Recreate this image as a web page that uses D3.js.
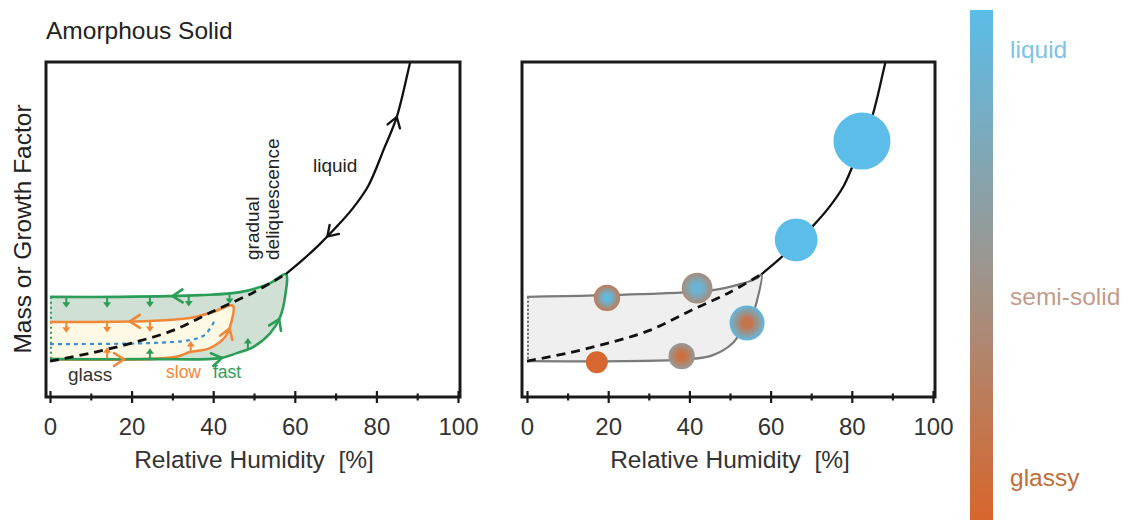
<!DOCTYPE html>
<html><head><meta charset="utf-8">
<script src="https://cdn.jsdelivr.net/npm/d3@7"></script>
<style>
body{margin:0;background:#fff}
svg{display:block}
text{font-family:"Liberation Sans",Arial,Helvetica,sans-serif}
</style>
</head><body>
<svg id="c" width="1138" height="520"></svg>
<script>
// ---------- data ----------
const rhTicksMajor = [0, 20, 40, 60, 80, 100];
const rhTicksMinor = [10, 30, 50, 70, 90];

const liquidRH = [57.8, 62, 66, 70, 74, 78, 82, 85, 88.3, 90];
const liquidGF = [36.7, 41, 45.5, 50.5, 56, 63, 74.5, 83.6, 100, 108];

const dashRH = [0, 10, 20, 30, 40, 50, 57.8];
const dashGF = [10.7, 13.1, 16.1, 19.8, 25.6, 31.3, 36.7];

const greenBotRH = [0, 24.5, 41.7, 45.8, 49.8, 54, 56.4, 57.6, 57.8];
const greenBotGF = [11.3, 11.3, 11.6, 13.1, 14.9, 19.1, 23.9, 29.9, 36.7];
const greenTopRH = [57.8, 54, 46.6, 36.8, 17.2, 0];
const greenTopGF = [36.7, 34, 31.3, 30.4, 29.9, 29.9];

const orangeBotRH = [0, 30.6, 34.3, 39.2, 42.9, 44.4, 44.8];
const orangeBotGF = [11.3, 11.9, 13.4, 14.6, 17.9, 22.1, 27.3];
const orangeTopRH = [44.8, 40, 34.3, 24.5, 0];
const orangeTopGF = [27.3, 25.4, 23.6, 22.7, 22.4];

const blueRH = [0, 24.5, 34.3, 38, 40.3];
const blueGF = [15.8, 16.1, 17, 18.6, 22.7];

const greenDownRH = [4, 14, 24.5, 34, 44];
const orangeDownRH = [4, 14, 24.5];
const greenUpRH = [24.5, 48.5];
const orangeUpRH = [14, 34.5];

const grayTopRH = [0, 27.8, 45.8, 52.5, 56.7, 57.8];
const grayTopGF = [29.9, 30.7, 31.9, 33.7, 35.5, 36.7];
const grayBotRH = [0, 40.1, 45.8, 50.7, 53.9, 55.4, 56.7, 57.8];
const grayBotGF = [10.7, 11.3, 12.5, 16.1, 22.1, 24.2, 29, 36.7];

const partRH   = [19.7, 41.9, 54.2, 17.2, 38.1, 66.3, 82.5];
const partGF   = [29.6, 32.5, 22.1, 10.4, 12.2, 46.9, 76.4];
const partSize = [1.2, 1.4, 1.6, 1.0, 1.2, 1.95, 2.6];
const partCore = [0.95, 0.9, 0.15, 0.02, 0.1, 1, 1];
const partEdge = [0.2, 0.4, 0.95, 0.02, 0.55, 1, 1];

const phaseStops  = [0, 0.5, 1];
const phaseColors = ["#d8652b", "#9c968f", "#5bbde8"];
const phaseLabels = ["glassy", "semi-solid", "liquid"];
const phaseLabelColors = ["#c06d3a", "#c49b8a", "#7ec3e3"];

// ---------- helpers ----------
const zip = (a, b) => a.map((v, i) => [v, b[i]]);
const svg = d3.select("#c");
const color = d3.scaleLinear().domain(phaseStops).range(phaseColors).interpolate(d3.interpolateRgb);
const rScale = d3.scaleLinear().domain([1, 2.6]).range([11, 28.5]);
const y = d3.scaleLinear().domain([0, 100]).range([397, 62]);
const FRAME_TOP = 62, FRAME_BOT = 397;

function interpY(rhArr, gfArr, rh) {
  const pts = zip(rhArr, gfArr).sort((a, b) => a[0] - b[0]);
  for (let i = 0; i < pts.length - 1; i++) {
    if (rh >= pts[i][0] && rh <= pts[i + 1][0]) {
      const t = (rh - pts[i][0]) / (pts[i + 1][0] - pts[i][0] || 1);
      return pts[i][1] + t * (pts[i + 1][1] - pts[i][1]);
    }
  }
  return pts[pts.length - 1][1];
}

function panel(id, fx0, fx1, x0, x1) {
  const x = d3.scaleLinear().domain([0, 100]).range([x0, x1]);
  const g = svg.append("g");
  const clipId = "clip" + id;
  svg.append("clipPath").attr("id", clipId).append("rect")
    .attr("x", fx0).attr("y", FRAME_TOP).attr("width", fx1 - fx0).attr("height", FRAME_BOT - FRAME_TOP);
  const plot = g.append("g").attr("clip-path", `url(#${clipId})`);
  const line = d3.line().x(d => x(d[0])).y(d => y(d[1])).curve(d3.curveCatmullRom.alpha(0.5));
  const axMaj = d3.axisBottom(x).tickValues(rhTicksMajor).tickSize(6).tickFormat(d3.format("d"));
  const gMaj = g.append("g").attr("transform", `translate(0,${FRAME_BOT})`).call(axMaj);
  gMaj.select(".domain").remove();
  gMaj.selectAll(".tick line").attr("y1", -6).attr("y2", 6).attr("stroke", "#1a1a1a").attr("stroke-width", 2.2);
  gMaj.selectAll(".tick text").attr("y", 38).attr("dy", 0).attr("font-size", 24)
    .attr("fill", "#333").style("font-family", '"Liberation Sans",Arial,sans-serif');
  const axMin = d3.axisBottom(x).tickValues(rhTicksMinor).tickSize(4).tickFormat("");
  const gMin = g.append("g").attr("transform", `translate(0,${FRAME_BOT})`).call(axMin);
  gMin.select(".domain").remove();
  gMin.selectAll(".tick line").attr("y1", -3.5).attr("y2", 3.5).attr("stroke", "#1a1a1a").attr("stroke-width", 2.2);
  g.append("text").attr("x", (x0 + x1) / 2).attr("y", 468).attr("text-anchor", "middle")
    .attr("font-size", 24.5).attr("fill", "#333").attr("xml:space", "preserve")
    .text("Relative Humidity  [%]");
  g.append("rect").attr("x", fx0).attr("y", FRAME_TOP).attr("width", fx1 - fx0).attr("height", FRAME_BOT - FRAME_TOP)
    .attr("fill", "none").attr("stroke", "#1a1a1a").attr("stroke-width", 3);
  return { x, g, plot, line };
}

function nearestLen(node, tx, ty) {
  const L = node.getTotalLength();
  let best = 0, bd = 1e9;
  for (let l = 0; l <= L; l += 0.5) {
    const p = node.getPointAtLength(l);
    const d = (p.x - tx) ** 2 + (p.y - ty) ** 2;
    if (d < bd) { bd = d; best = l; }
  }
  return [best, L];
}

function chevrons(plot, pathNode, specs, x, stroke, sw) {
  specs.forEach(s => {
    const dir = s[2] || 1;
    const [best, L] = nearestLen(pathNode, x(s[0]), y(s[1]));
    const p = pathNode.getPointAtLength(best);
    const q = pathNode.getPointAtLength(Math.min(L, best + 2 * dir));
    const p0 = pathNode.getPointAtLength(Math.max(0, best - 2 * dir));
    const ang = Math.atan2(q.y - p0.y, q.x - p0.x) * 180 / Math.PI;
    plot.append("path").attr("d", "M-10,-6.5L0,0L-10,6.5")
      .attr("transform", `translate(${p.x},${p.y}) rotate(${ang})`)
      .attr("fill", "none").attr("stroke", stroke).attr("stroke-width", sw)
      .attr("stroke-linejoin", "miter").attr("stroke-linecap", "round");
  });
}

function smallArrows(plot, rhs, rhArr, gfArr, x, dir, col) {
  rhs.forEach(r => {
    const px = x(r), py = y(interpY(rhArr, gfArr, r));
    const tip = py + dir * 11;
    plot.append("line").attr("x1", px).attr("x2", px).attr("y1", py).attr("y2", tip - dir * 3)
      .attr("stroke", col).attr("stroke-width", 2);
    plot.append("path").attr("d", `M${px - 4},${tip - dir * 5.5}L${px + 4},${tip - dir * 5.5}L${px},${tip}Z`)
      .attr("fill", col);
  });
}

// ---------- titles ----------
svg.append("text").attr("x", 46).attr("y", 39).attr("font-size", 24.5).attr("fill", "#222").text("Amorphous Solid");
svg.append("text").attr("transform", "translate(31,229) rotate(-90)").attr("text-anchor", "middle")
  .attr("font-size", 24.5).attr("fill", "#222").text("Mass or Growth Factor");

// ---------- left panel ----------
const GREEN = "#2c9d57", ORANGE = "#f0883a", BLUE = "#3a8fce";
{
  const { x, plot, line } = panel("L", 46, 460, 50, 458);
  const greenLoop = zip(greenBotRH, greenBotGF).concat(zip(greenTopRH, greenTopGF).slice(1));
  const orangeLoop = zip(orangeBotRH, orangeBotGF).concat(zip(orangeTopRH, orangeTopGF).slice(1));
  plot.append("path").attr("d", line(greenLoop) + "Z").attr("fill", "#d0e0d4").attr("stroke", "none");
  plot.append("path").attr("d", line(orangeLoop) + "Z").attr("fill", "#fdf9e5").attr("stroke", "none");
  plot.append("line").attr("x1", x(0) + 1).attr("x2", x(0) + 1).attr("y1", y(29.9)).attr("y2", y(11.3))
    .attr("stroke", GREEN).attr("stroke-width", 2).attr("stroke-dasharray", "2,3");
  plot.append("path").attr("d", line(zip(blueRH, blueGF))).attr("fill", "none")
    .attr("stroke", BLUE).attr("stroke-width", 2.2).attr("stroke-dasharray", "4,4");
  const oPath = plot.append("path").attr("d", line(orangeLoop)).attr("fill", "none")
    .attr("stroke", ORANGE).attr("stroke-width", 2.6);
  const gPath = plot.append("path").attr("d", line(greenLoop)).attr("fill", "none")
    .attr("stroke", GREEN).attr("stroke-width", 2.6);
  plot.append("path").attr("d", line(zip(dashRH, dashGF))).attr("fill", "none")
    .attr("stroke", "#111").attr("stroke-width", 2.8).attr("stroke-dasharray", "9,6");
  const lPath = plot.append("path").attr("d", line(zip(liquidRH, liquidGF))).attr("fill", "none")
    .attr("stroke", "#111").attr("stroke-width", 2.3);
  smallArrows(plot, greenDownRH, greenTopRH, greenTopGF, x, 1, GREEN);
  smallArrows(plot, orangeDownRH, orangeTopRH, orangeTopGF, x, 1, ORANGE);
  smallArrows(plot, greenUpRH, greenBotRH, greenBotGF, x, -1, GREEN);
  smallArrows(plot, orangeUpRH, orangeBotRH, orangeBotGF, x, -1, ORANGE);
  chevrons(plot, gPath.node(), [[42.2, 11.3], [55.6, 23.6], [30, 30.4]], x, GREEN, 2.6);
  chevrons(plot, oPath.node(), [[18.1, 11.6], [43.6, 20.6], [19.6, 22.4]], x, ORANGE, 2.6);
  chevrons(plot, lPath.node(), [[85, 83.6, 1], [68, 47.8, -1]], x, "#111", 2.3);
  const tg = svg.append("g");
  tg.append("text").attr("x", 313).attr("y", 172).attr("font-size", 19).attr("fill", "#222").text("liquid");
  tg.append("text").attr("transform", "translate(259,260) rotate(-90)").attr("font-size", 19).attr("fill", "#222").text("gradual");
  tg.append("text").attr("transform", "translate(279,260) rotate(-90)").attr("font-size", 19).attr("fill", "#222").text("deliquescence");
  tg.append("text").attr("x", 68).attr("y", 381).attr("font-size", 19).attr("fill", "#333").text("glass");
  tg.append("text").attr("x", 166).attr("y", 378).attr("font-size", 17.5).attr("fill", ORANGE).text("slow");
  tg.append("text").attr("x", 213).attr("y", 378).attr("font-size", 17.5).attr("fill", GREEN).text("fast");
}

// ---------- right panel ----------
{
  const { x, plot, line } = panel("R", 522, 935, 527, 933);
  const grayLoop = zip(grayBotRH, grayBotGF).concat(zip(grayTopRH, grayTopGF).reverse().slice(1));
  plot.append("path").attr("d", line(grayLoop) + "Z").attr("fill", "#efefef").attr("stroke", "none");
  plot.append("line").attr("x1", x(0) + 1).attr("x2", x(0) + 1).attr("y1", y(29.9)).attr("y2", y(10.7))
    .attr("stroke", "#444").attr("stroke-width", 1.5).attr("stroke-dasharray", "2,2");
  plot.append("path").attr("d", line(grayLoop)).attr("fill", "none").attr("stroke", "#7a7a7a").attr("stroke-width", 2.2);
  plot.append("path").attr("d", line(zip(dashRH, dashGF))).attr("fill", "none")
    .attr("stroke", "#111").attr("stroke-width", 2.8).attr("stroke-dasharray", "9,6");
  plot.append("path").attr("d", line(zip(liquidRH, liquidGF))).attr("fill", "none")
    .attr("stroke", "#111").attr("stroke-width", 2.3);
  const defs = svg.append("defs");
  partRH.forEach((r, i) => {
    const gid = "pg" + i;
    const rg = defs.append("radialGradient").attr("id", gid);
    rg.append("stop").attr("offset", "0%").attr("stop-color", color(partCore[i]));
    rg.append("stop").attr("offset", "25%").attr("stop-color", color(partCore[i]));
    rg.append("stop").attr("offset", "100%").attr("stop-color", color(partEdge[i]));
    plot.append("circle").attr("cx", x(r)).attr("cy", y(partGF[i])).attr("r", rScale(partSize[i]))
      .attr("fill", `url(#${gid})`);
  });
}

// ---------- colour bar ----------
{
  const barY = d3.scaleLinear().domain([0, 1]).range([520, 10]);
  const lg = svg.append("defs").append("linearGradient").attr("id", "cbar")
    .attr("x1", 0).attr("y1", 1).attr("x2", 0).attr("y2", 0);
  phaseStops.forEach((s, i) => lg.append("stop").attr("offset", s).attr("stop-color", phaseColors[i]));
  svg.append("rect").attr("x", 970).attr("y", barY(1)).attr("width", 23).attr("height", barY(0) - barY(1))
    .attr("fill", "url(#cbar)");
  const labelBase = [0.067, 0.421, 0.906];
  phaseLabels.forEach((t, i) => {
    svg.append("text").attr("x", 1010).attr("y", barY(labelBase[i]))
      .attr("font-size", 24.5).attr("fill", phaseLabelColors[i]).text(t);
  });
}
</script>
</body></html>
